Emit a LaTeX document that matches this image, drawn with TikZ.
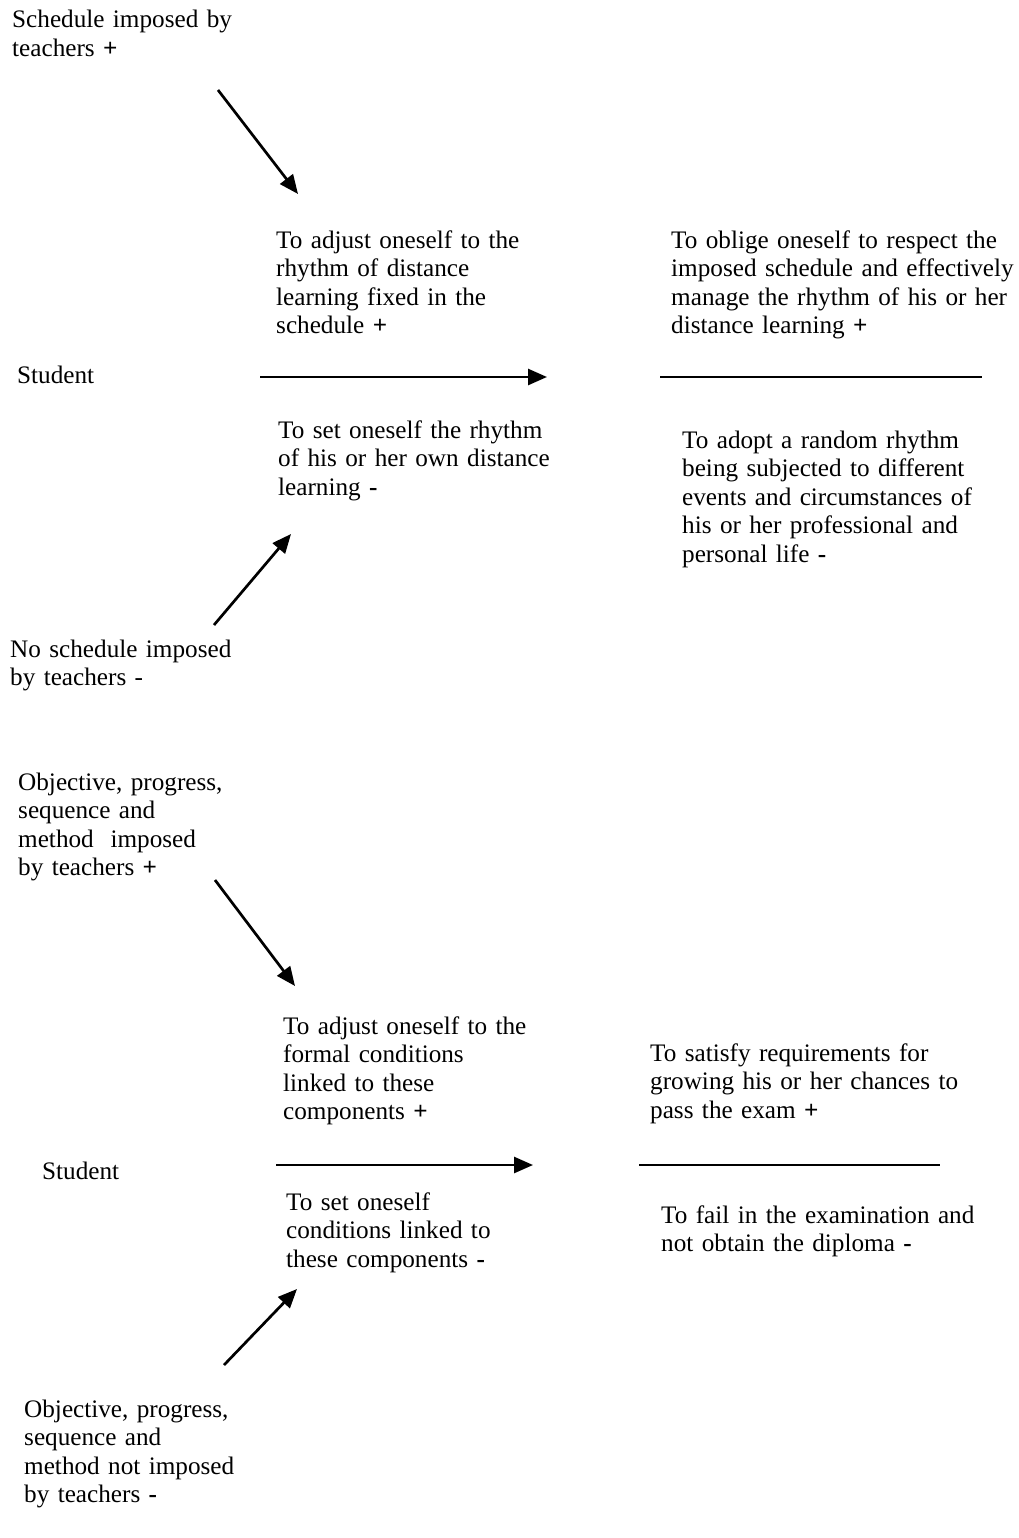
\documentclass[tikz,border=0pt]{standalone}
\usepackage{fontspec}
\setmainfont{Liberation Serif}
\usetikzlibrary{arrows.meta}
\begin{document}
\begin{tikzpicture}[x=1pt,y=-1pt,
  lbl/.style={anchor=base west,inner sep=0pt,text width=420pt,align=left,
    font=\fontsize{25.2}{28.5}\selectfont},
  arr/.style={line width=2.7pt,-{Triangle[length=19pt,width=16pt]}},
  bar/.style={line width=2.5pt}]
\useasboundingbox (0,0) rectangle (1018,1538);
% ---------- section 1 ----------
\node[lbl] (s1) at (12,28) {Schedule imposed by\\teachers \textbf{+}};
\node[lbl] (a1) at (276,248) {To adjust oneself to the\\rhythm of distance\\learning fixed in the\\schedule \textbf{+}};
\node[lbl] (b1) at (671,248) {To oblige oneself to respect the\\imposed schedule and effectively\\manage the rhythm of his or her\\distance learning \textbf{+}};
\node[lbl] (st1) at (17,383) {Student};
\node[lbl] (c1) at (278,438) {To set oneself the rhythm\\of his or her own distance\\learning \textbf{-}};
\node[lbl] (d1) at (682,448) {To adopt a random rhythm\\being subjected to different\\events and circumstances of\\his or her professional and\\personal life \textbf{-}};
\node[lbl] (n1) at (10,657) {No schedule imposed\\by teachers -};
\coordinate (p1s) at (218,90);  \coordinate (p1e) at (298,194);
\coordinate (h1s) at (260,377); \coordinate (h1e) at (547,377);
\coordinate (l1s) at (660,377); \coordinate (l1e) at (982,377);
\coordinate (q1s) at (214,625); \coordinate (q1e) at (291,534);
\draw[arr] (p1s) -- (p1e);
\draw[arr] (h1s) -- (h1e);
\draw[bar] (l1s) -- (l1e);
\draw[arr] (q1s) -- (q1e);
% ---------- section 2 ----------
\node[lbl] (s2) at (18,790) {Objective, progress,\\sequence and\\method\ \ imposed\\by teachers \textbf{+}};
\node[lbl] (a2) at (283,1034) {To adjust oneself to the\\formal conditions\\linked to these\\components \textbf{+}};
\node[lbl] (b2) at (650,1061) {To satisfy requirements for\\growing his or her chances to\\pass the exam \textbf{+}};
\node[lbl] (st2) at (42,1179) {Student};
\node[lbl] (c2) at (286,1210) {To set oneself\\conditions linked to\\these components \textbf{-}};
\node[lbl] (d2) at (661,1223) {To fail in the examination and\\not obtain the diploma \textbf{-}};
\node[lbl] (n2) at (24,1417) {Objective, progress,\\sequence and\\method not imposed\\by teachers \textbf{-}};
\coordinate (p2s) at (215,880);  \coordinate (p2e) at (295,986);
\coordinate (h2s) at (276,1165); \coordinate (h2e) at (533,1165);
\coordinate (l2s) at (639,1165); \coordinate (l2e) at (940,1165);
\coordinate (q2s) at (224,1365); \coordinate (q2e) at (297,1289);
\draw[arr] (p2s) -- (p2e);
\draw[arr] (h2s) -- (h2e);
\draw[bar] (l2s) -- (l2e);
\draw[arr] (q2s) -- (q2e);
\end{tikzpicture}
\end{document}
